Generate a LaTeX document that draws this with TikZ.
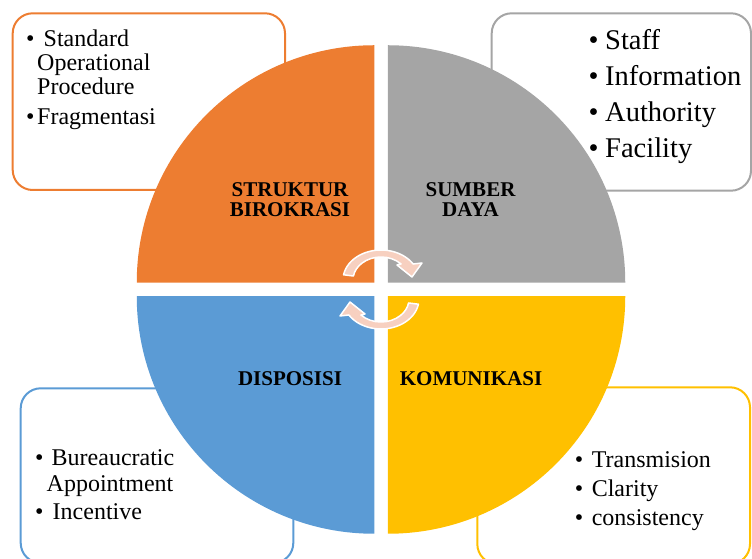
\documentclass[tikz,border=0pt]{standalone}
\usepackage{fontspec}
\setmainfont{Liberation Serif}
\usepackage{tikz}
\definecolor{sborange}{HTML}{ED7D31}
\definecolor{sbgray}{HTML}{A5A5A5}
\definecolor{sbblue}{HTML}{5B9BD5}
\definecolor{sbyellow}{HTML}{FFC000}
\definecolor{turnpink}{HTML}{F7D0C0}
\newcommand{\blt}[1]{\makebox[#1][l]{\textbullet}}
\tikzset{
	infobox/.style={rounded corners=20pt, line width=2pt},
	qlabel/.style={font=\bfseries\fontsize{21}{20}\selectfont, align=center, inner sep=0pt},
	bullets/.style={inner sep=0pt, anchor=base west},
	turn/.style={fill=turnpink, draw=white, line width=1.5pt, line join=round}
}

\begin{document}
\begin{tikzpicture}[x=1pt, y=1pt]
	\useasboundingbox (0,0) rectangle (752,559);
	\coordinate (c) at (381,269.5);

	% boxes behind the circle
	\draw[infobox, draw=sborange] (12.7,369) rectangle (285,545.7);
	\draw[infobox, draw=sbgray] (491.7,368.3) rectangle (751,545.7);
	\draw[infobox, draw=sbblue] (20.7,-4) rectangle (293.3,170.7);
	\draw[infobox, draw=sbyellow] (477.3,-5) rectangle (750,171.7);

	% four quarters
	\foreach \col/\sx/\sy/\a in {sborange/-1/1/90, sbgray/1/1/0, sbblue/-1/-1/180, sbyellow/1/-1/270}
		\fill[\col] ([shift={(\sx*6.75,\sy*6.75)}]c) -- ++(\a:237.5) arc[start angle=\a, end angle=\a+90, radius=237.5] -- cycle;

	\node[qlabel] (struktur) at ([shift={(-91,89.5)}]c) {STRUKTUR\\BIROKRASI};
	\node[qlabel] (sumber) at ([shift={(89.5,89.5)}]c) {SUMBER\\DAYA};
	\node[qlabel] (disposisi) at ([shift={(-91,-89.5)}]c) {DISPOSISI};
	\node[qlabel] (komunikasi) at ([shift={(90,-89.5)}]c) {KOMUNIKASI};

	% turning arrows
	\foreach \ctr/\rot in {279/0, 260/180}
		\path[turn, shift={(381,\ctr)}, rotate=\rot] (170:38 and 30)
			arc[start angle=170, end angle=32.2, x radius=38, y radius=30]
			-- (41,17) -- (31,3) -- (16,15) -- (20.1,16)
			arc[start angle=44.1, end angle=170, x radius=28, y radius=23] -- cycle;

	% lists
	\node[bullets, font=\fontsize{24}{24}\selectfont] (strukturlist) at (26,512)
		{\begin{tabular}[t]{@{}l@{}}
			\blt{11pt}\hspace{6.5pt}Standard\\
			\hspace{11pt}Operational\\
			\hspace{11pt}Procedure\\[6pt]
			\blt{11pt}Fragmentasi
		\end{tabular}};
	\node[bullets, font=\fontsize{28.5}{35.8}\selectfont] (sumberlist) at (588.3,509)
		{\begin{tabular}[t]{@{}l@{}}
			\blt{16.7pt}Staff\\
			\blt{16.7pt}Information\\
			\blt{16.7pt}Authority\\
			\blt{16.7pt}Facility
		\end{tabular}};
	\node[bullets, font=\fontsize{24}{26}\selectfont] (disposisilist) at (35,93)
		{\begin{tabular}[t]{@{}l@{}}
			\blt{11.5pt}\hspace{5pt}Bureaucratic\\
			\hspace{11.5pt}Appointment\\[2pt]
			\blt{11.5pt}\hspace{6pt}Incentive
		\end{tabular}};
	\node[bullets, font=\fontsize{24}{29.2}\selectfont] (komunikasilist) at (574.6,91.7)
		{\begin{tabular}[t]{@{}l@{}}
			\blt{17pt}Transmision\\
			\blt{17pt}Clarity\\
			\blt{17pt}consistency
		\end{tabular}};
\end{tikzpicture}
\end{document}
